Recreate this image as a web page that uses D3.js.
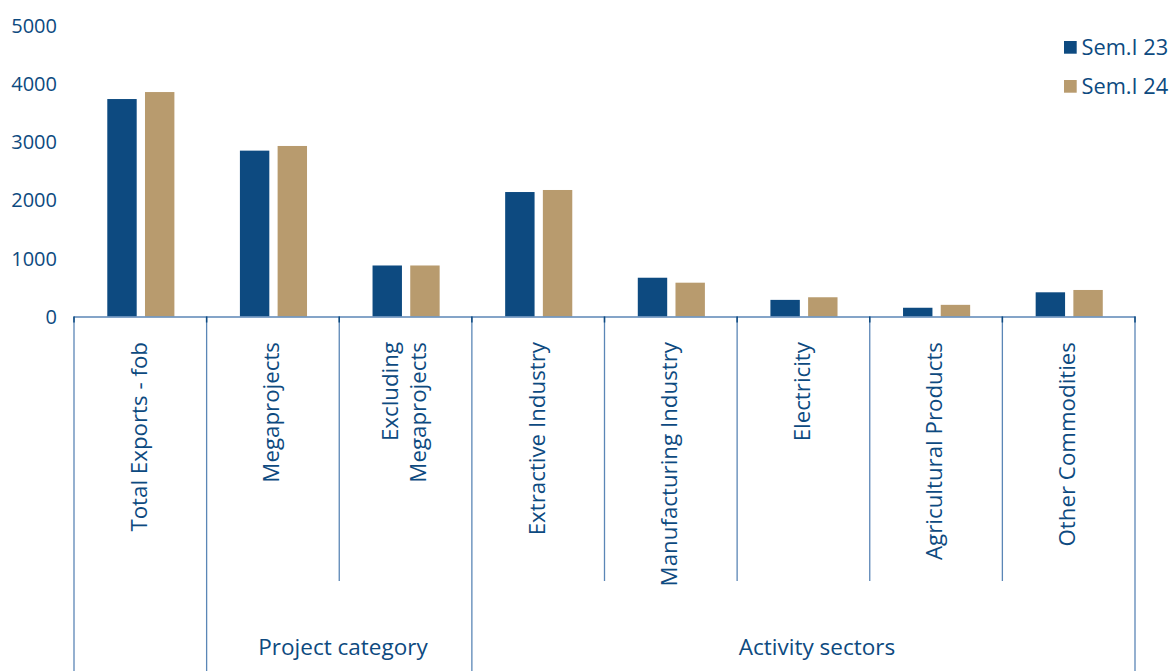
<!DOCTYPE html>
<html><head><meta charset="utf-8">
<script src="https://cdn.jsdelivr.net/npm/d3@7"></script>
<style>
html,body{margin:0;padding:0;background:#fff;}
text{font-family:"Open Sans","Noto Sans",sans-serif;fill:#0d4a80;}
</style></head>
<body><svg id="c" width="1172" height="671"></svg>
<script>
const categories = ["Total Exports - fob","Megaprojects","Excluding Megaprojects","Extractive Industry","Manufacturing Industry","Electricity","Agricultural Products","Other Commodities"];
const categoryLines = [["Total Exports - fob"],["Megaprojects"],["Excluding","Megaprojects"],["Extractive Industry"],["Manufacturing Industry"],["Electricity"],["Agricultural Products"],["Other Commodities"]];
const seriesNames = ["Sem.I 23","Sem.I 24"];
const sem23 = [3730,2845,875,2135,665,285,150,415];
const sem24 = [3850,2925,875,2170,580,330,200,455];
const yTicks = [0,1000,2000,3000,4000,5000];
const groups = [{name:"Project category", from:1, to:2},{name:"Activity sectors", from:3, to:7}];
const colors = ["#0d4a80","#b89b6e"];

const svg = d3.select("#c");
const y0 = 316.5, yTop = 25;
const y = d3.scaleLinear().domain([0,5000]).range([y0,yTop]);
const x = d3.scaleBand().domain(categories).range([74,1135]).padding(0);
const bw = x.bandwidth();
const x1 = d3.scaleBand().domain(seriesNames).range([bw*0.251, bw*0.757]).paddingInner(0.22).paddingOuter(0);

const lineCol = "#5b86b6";
const tickCol = "#0d4a80";

// y axis labels
const yAxis = d3.axisLeft(y).tickValues(yTicks).tickSize(0).tickPadding(0).tickFormat(d3.format("d"));
const ya = svg.append("g").attr("transform","translate(57,0)").call(yAxis);
ya.select(".domain").remove();
ya.selectAll("text").style("font-size","20px").attr("fill","#1b5088").attr("dy","0.35em");

// bars
const data = categories.map((c,i)=>({c, vals:[sem23[i],sem24[i]]}));
const g = svg.append("g");
data.forEach(d=>{
  d.vals.forEach((v,j)=>{
    g.append("rect")
      .attr("x", x(d.c)+x1(seriesNames[j]))
      .attr("y", y(v))
      .attr("width", x1.bandwidth())
      .attr("height", y(0)-y(v))
      .attr("fill", colors[j]);
  });
});

// baseline
svg.append("line").attr("x1",74).attr("x2",1135.5).attr("y1",y0+0.5).attr("y2",y0+0.5)
  .attr("stroke",lineCol).attr("stroke-width",1.3);

// vertical separators
const bounds = d3.range(categories.length+1).map(i=> i<categories.length ? x(categories[i]) : x.range()[1]);
const fullIdx = new Set([0,1]);
groups.forEach(gr=>{fullIdx.add(gr.from); fullIdx.add(gr.to+1);});
bounds.forEach((bx,i)=>{
  const full = fullIdx.has(i);
  svg.append("line").attr("x1",bx).attr("x2",bx).attr("y1",y0).attr("y2", full?671:581)
    .attr("stroke",lineCol).attr("stroke-width",1.3);
  svg.append("line").attr("x1",bx).attr("x2",bx).attr("y1",y0).attr("y2",y0+6)
    .attr("stroke",tickCol).attr("stroke-width",1.5);
});

// category labels (rotated)
categories.forEach((c,i)=>{
  const cx = x(c)+bw/2;
  const lines = categoryLines[i];
  const n = lines.length;
  lines.forEach((t,k)=>{
    const off = (k-(n-1)/2)*28;
    svg.append("text")
      .attr("transform",`translate(${cx+off-1.5},342) rotate(-90)`)
      .attr("text-anchor","end")
      .attr("dy","0.35em")
      .style("font-size","22.3px")
      .text(t);
  });
});

// group labels
const groupX = [343, 817];
groups.forEach((gr,i)=>{
  svg.append("text").attr("x",groupX[i]).attr("y",647).attr("dy","0.35em")
    .attr("text-anchor","middle").style("font-size","22.5px").text(gr.name);
});

// legend
const lg = svg.append("g").attr("transform","translate(1064,41)");
seriesNames.forEach((s,i)=>{
  lg.append("rect").attr("x",0).attr("y",i*39).attr("width",12.7).attr("height",12.7).attr("fill",colors[i]);
  lg.append("text").attr("x",17.5).attr("y",i*39+6.5).attr("dy","0.35em").style("font-size","21.8px").text(s);
});
</script></body></html>
